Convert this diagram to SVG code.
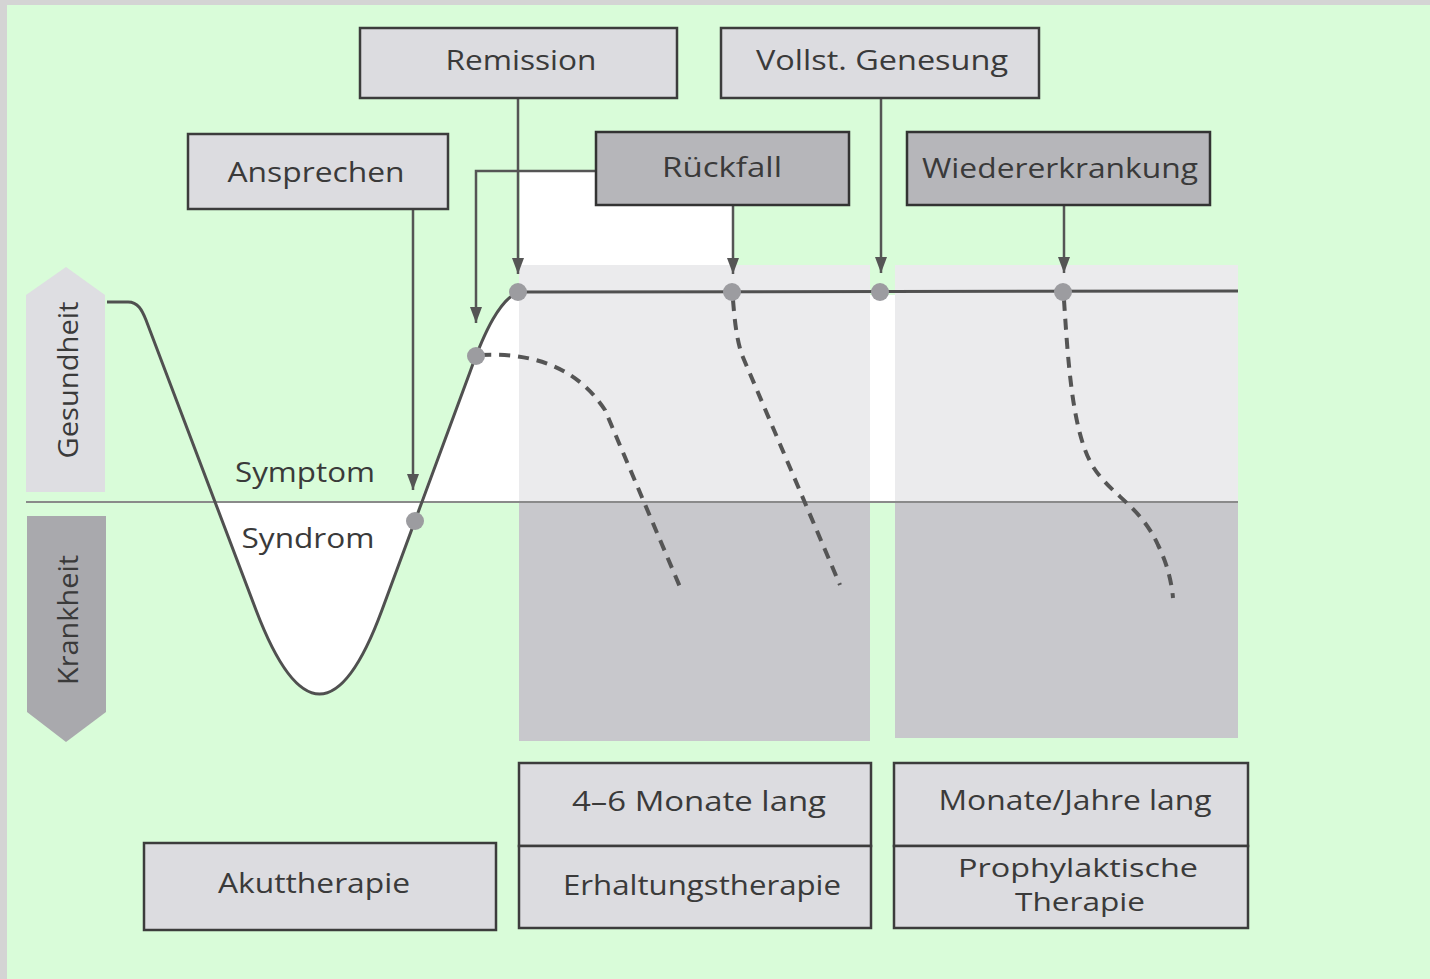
<svg xmlns="http://www.w3.org/2000/svg" width="1430" height="979" viewBox="0 0 1430 979">
<defs>
<style>
.box{fill:#dcdce0;stroke:#3c3c3c;stroke-width:2.5}
.dbox{fill:#b6b6ba;stroke:#333;stroke-width:2.5}
.t{font-family:"Open Sans","Noto Sans","Liberation Sans",sans-serif;font-size:28px;fill:#3a3a3a;text-anchor:middle}
.s{font-size:26px}
.conn{fill:none;stroke:#555;stroke-width:2.5}
.curve{fill:none;stroke:#505050;stroke-width:3}
.dash{fill:none;stroke:#555;stroke-width:4;stroke-dasharray:11 8}
.dot{fill:#9c9ca0}
</style>
<marker id="ah" viewBox="0 0 16 12" refX="16" refY="6" markerWidth="16" markerHeight="12" markerUnits="userSpaceOnUse" orient="auto">
<path d="M0,0 L16,6 L0,12 Z" fill="#555"/>
</marker>
</defs>
<rect x="0" y="0" width="1430" height="979" fill="#d4d4d4"/>
<rect x="7" y="5" width="1423" height="974" fill="#d9fcd9"/>

<g id="background-areas">
<rect x="520" y="171" width="213" height="96" fill="#ffffff"/>
<path d="M216,502 L256,610 Q320,778 382,610 L420,502 Z" fill="#ffffff"/>
<path d="M420,502 L470,372 C485,330 500,300 518,292 L520,292 L520,502 Z" fill="#ffffff"/>
<rect x="869" y="295" width="26" height="207" fill="#ffffff"/>
<rect x="519" y="265" width="351" height="237" fill="#ebebed"/>
<rect x="519" y="502" width="351" height="239" fill="#c8c8cc"/>
<rect x="895" y="265" width="343" height="237" fill="#ebebed"/>
<rect x="895" y="502" width="343" height="236" fill="#c8c8cc"/>
<line x1="26" y1="502" x2="1238" y2="502" stroke="#8a8a8a" stroke-width="2"/>
</g>

<g id="gesundheit">
<path d="M26,295 L66,267 L105,295 L105,492 L26,492 Z" fill="#dedee2"/>
<text class="t" transform="translate(78,380) rotate(-90)" textLength="157" lengthAdjust="spacingAndGlyphs">Gesundheit</text>
</g>
<g id="krankheit">
<path d="M27,516 L106,516 L106,712 L66,742 L27,712 Z" fill="#a9a9ad"/>
<text class="t" transform="translate(78,620) rotate(-90)" textLength="130" lengthAdjust="spacingAndGlyphs">Krankheit</text>
</g>

<g id="curves">
<path class="curve" d="M107,302 L128,302 C138,302 142,310 146,320 L256,610 Q320,778 382,610 L470,372 C485,330 500,300 518,292"/>
<line class="curve" x1="518" y1="292" x2="1238" y2="291"/>
<path class="dash" d="M480,355 C540,352 580,372 605,410 L680,587"/>
<path class="dash" d="M733,300 C735,325 737,340 742,355 L840,585"/>
<path class="dash" d="M1064,300 C1068,360 1072,430 1092,465 C1110,495 1140,505 1158,545 C1168,565 1172,585 1173,598"/>
<text class="t" x="305" y="482" textLength="140" lengthAdjust="spacingAndGlyphs">Symptom</text>
<text class="t" x="308" y="548" textLength="133" lengthAdjust="spacingAndGlyphs">Syndrom</text>
</g>

<g id="connectors">
<line class="conn" x1="413" y1="209" x2="413" y2="490" marker-end="url(#ah)"/>
<line class="conn" x1="518" y1="98" x2="518" y2="274" marker-end="url(#ah)"/>
<polyline class="conn" points="597,171 476,171 476,323" marker-end="url(#ah)"/>
<line class="conn" x1="733" y1="205" x2="733" y2="274" marker-end="url(#ah)"/>
<line class="conn" x1="881" y1="98" x2="881" y2="273" marker-end="url(#ah)"/>
<line class="conn" x1="1064" y1="205" x2="1064" y2="273" marker-end="url(#ah)"/>
</g>

<g id="dots">
<circle class="dot" cx="518" cy="292" r="9"/>
<circle class="dot" cx="732" cy="292" r="9"/>
<circle class="dot" cx="880" cy="292" r="9"/>
<circle class="dot" cx="1063" cy="292" r="9"/>
<circle class="dot" cx="476" cy="356" r="9"/>
<circle class="dot" cx="415" cy="521" r="9"/>
</g>

<g id="remission">
<rect class="box" x="360" y="28" width="317" height="70"/>
<text class="t" x="521" y="70" textLength="151" lengthAdjust="spacingAndGlyphs">Remission</text>
</g>
<g id="vollst-genesung">
<rect class="box" x="721" y="28" width="318" height="70"/>
<text class="t" x="882" y="70" textLength="252" lengthAdjust="spacingAndGlyphs">Vollst. Genesung</text>
</g>
<g id="ansprechen">
<rect class="box" x="188" y="134" width="260" height="75"/>
<text class="t" x="316" y="182" textLength="177" lengthAdjust="spacingAndGlyphs">Ansprechen</text>
</g>
<g id="rueckfall">
<rect class="dbox" x="596" y="132" width="253" height="73"/>
<text class="t" x="722" y="177" textLength="120" lengthAdjust="spacingAndGlyphs">Rückfall</text>
</g>
<g id="wiedererkrankung">
<rect class="dbox" x="907" y="132" width="303" height="73"/>
<text class="t" x="1060" y="178" textLength="276" lengthAdjust="spacingAndGlyphs">Wiedererkrankung</text>
</g>

<g id="erhaltung">
<rect class="box" x="519" y="763" width="352" height="83"/>
<rect class="box" x="519" y="846" width="352" height="82"/>
<text class="t" x="699" y="811" textLength="254" lengthAdjust="spacingAndGlyphs">4–6 Monate lang</text>
<text class="t" x="702" y="895" textLength="278" lengthAdjust="spacingAndGlyphs">Erhaltungstherapie</text>
</g>
<g id="prophylaxe">
<rect class="box" x="894" y="763" width="354" height="83"/>
<rect class="box" x="894" y="846" width="354" height="82"/>
<text class="t" x="1075" y="810" textLength="273" lengthAdjust="spacingAndGlyphs">Monate/Jahre lang</text>
<text class="t s" x="1078" y="877" textLength="240" lengthAdjust="spacingAndGlyphs">Prophylaktische</text>
<text class="t s" x="1080" y="911" textLength="130" lengthAdjust="spacingAndGlyphs">Therapie</text>
</g>
<g id="akuttherapie">
<rect class="box" x="144" y="843" width="352" height="87"/>
<text class="t" x="314" y="893" textLength="192" lengthAdjust="spacingAndGlyphs">Akuttherapie</text>
</g>
</svg>
